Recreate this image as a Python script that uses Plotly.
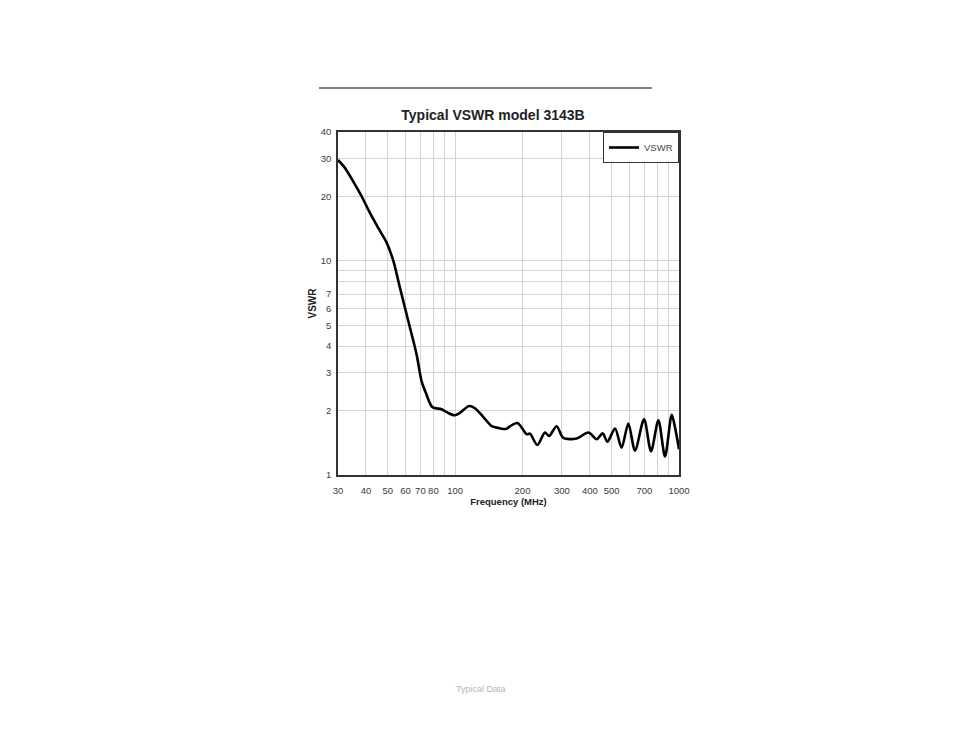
import plotly.graph_objects as go

freq_mhz = [30, 32.2, 35.0, 38.2, 41.6, 45.3, 49.4, 53.0, 56.7, 61.8, 67.3, 70.8, 74.0,
            79.3, 87.0, 93.0, 99.7, 105, 115.5, 122.6, 133.5, 145.8, 155.8, 168.8, 176,
            190, 209, 216, 233, 252, 263, 284, 304, 349, 394, 429, 456, 479, 518, 554,
            594, 636, 698, 750, 809, 866, 928, 965, 1000]
vswr = [29.6, 27.2, 23.6, 20.1, 16.8, 14.3, 12.2, 10.0, 7.5, 5.24, 3.66, 2.75, 2.42,
        2.07, 2.03, 1.95, 1.90, 1.95, 2.10, 2.05, 1.87, 1.69, 1.66, 1.64, 1.69,
        1.75, 1.55, 1.56, 1.38, 1.58, 1.52, 1.69, 1.49, 1.48, 1.58, 1.47, 1.565, 1.43, 1.65, 1.34,
        1.74, 1.30, 1.82, 1.29, 1.80, 1.22, 1.91, 1.62, 1.32]

x_grid_vals = [30, 40, 50, 60, 70, 80, 90, 100, 200, 300, 400, 500, 600, 700, 800, 900, 1000]
x_grid_text = ["30", "40", "50", "60", "70", "80", "", "100", "200", "300", "400", "500", "", "700", "", "", "1000"]
y_grid_vals = [1, 2, 3, 4, 5, 6, 7, 8, 9, 10, 20, 30, 40]
y_grid_text = ["1", "2", "3", "4", "5", "6", "7", "", "", "10", "20", "30", "40"]

FONT = "Liberation Sans, Arial, sans-serif"

# page body has an 8px offset; plot area target: x 338-679, y 131-474
L, T, W, H = 330, 124, 341, 343

fig = go.Figure()
fig.add_trace(go.Scatter(
    x=freq_mhz, y=vswr, mode="lines", name="VSWR",
    line=dict(color="black", width=2.6, shape="spline", smoothing=0.8),
))

axis_common = dict(
    showline=True, linecolor="#333333", linewidth=1.5, mirror=True,
    showgrid=True, gridcolor="#d4d4d4", gridwidth=1,
    zeroline=False, tickangle=0,
    tickfont=dict(family=FONT, size=9.5, color="#3a3a3a"),
)

fig.update_layout(
    width=954, height=738,
    margin=dict(l=L, r=954 - L - W, t=T, b=738 - T - H),
    paper_bgcolor="white", plot_bgcolor="white",
    font=dict(family=FONT, color="#222222"),
    title=dict(text="<b>Typical VSWR model 3143B</b>", x=(493 - 338) / W, xref="paper",
               y=1 - 107 / 738, yref="container", yanchor="middle", xanchor="center",
               font=dict(family=FONT, size=14, color="#222222")),
    xaxis=dict(type="log", range=[1.4771, 3.0], tickmode="array",
               tickvals=x_grid_vals, ticktext=x_grid_text,
               ticks="outside", ticklen=6, tickcolor="rgba(0,0,0,0)",
               title=dict(text="<b>Frequency (MHz)</b>", standoff=1,
                          font=dict(family=FONT, size=9.5, color="#222222")),
               **axis_common),
    yaxis=dict(type="log", range=[0, 1.60206], tickmode="array",
               tickvals=y_grid_vals, ticktext=y_grid_text,
               ticks="outside", ticklen=3, tickcolor="rgba(0,0,0,0)",
               title=dict(text="<b>VSWR</b>", standoff=2,
                          font=dict(family=FONT, size=10, color="#222222")),
               **axis_common),
    showlegend=True,
    legend=dict(x=1, xanchor="right", y=1, yanchor="top",
                bgcolor="white", bordercolor="#333333", borderwidth=1,
                itemwidth=30, font=dict(family=FONT, size=9.5, color="#444444")),
    shapes=[dict(type="line", xref="paper", yref="paper",
                 x0=(319 - 338) / W, x1=(652 - 338) / W,
                 y0=(474 - 87) / H, y1=(474 - 87) / H,
                 line=dict(color="black", width=1.2))],
    annotations=[dict(text="Typical Data", xref="paper", yref="paper",
                      x=(481 - 338) / W, y=(474 - 688) / H,
                      showarrow=False, xanchor="center", yanchor="middle",
                      font=dict(family=FONT, size=9, color="#b5b5b5"))],
)

fig.write_html("out.html")
